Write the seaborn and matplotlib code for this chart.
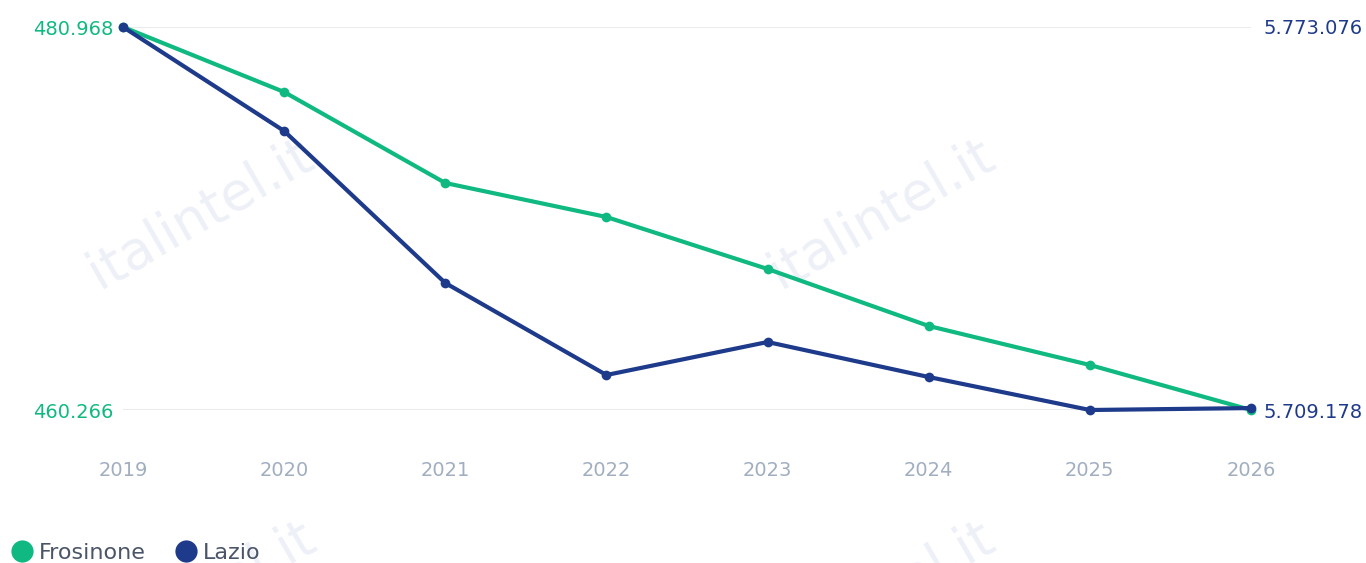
import matplotlib

matplotlib.use("Agg")
import matplotlib.pyplot as plt
import pandas as pd
import seaborn as sns
from matplotlib.lines import Line2D

sns.set_theme(style="white")
plt.rcParams["font.family"] = ["DejaVu Sans"]

# Data
years = [2019, 2020, 2021, 2022, 2023, 2024, 2025, 2026]
frosinone = [480968, 477455, 472536, 470698, 467888, 464807, 462699, 460266]
lazio = [5773076, 5755725, 5730365, 5715016, 5720521, 5714682, 5709178, 5709500]

GREEN = "#10b981"
NAVY = "#1e3a8a"
TICK_GRAY = "#a0aec0"
GRID = "#e9ebef"
WATERMARK = "#eef0f8"


def fmt(v):
    return f"{v:,}".replace(",", ".")


df = pd.DataFrame({"year": years, "Frosinone": frosinone, "Lazio": lazio})

fig = plt.figure(figsize=(13.66, 5.63), dpi=100)
ax = fig.add_axes([123 / 1366, 1 - 410 / 563, (1251 - 123) / 1366, (410 - 27) / 563])
ax2 = ax.twinx()

# watermarks, behind everything
for x, y in [(0.147, 0.62), (0.645, 0.62), (0.148, -0.058), (0.645, -0.058)]:
    fig.text(x, y, "italintel.it", fontsize=38, color=WATERMARK, rotation=30,
             ha="center", va="center", zorder=-5)

# grid lines at min / max only
for v in (min(frosinone), max(frosinone)):
    ax.axhline(v, color=GRID, lw=1.5, zorder=0)

sns.lineplot(data=df, x="year", y="Frosinone", ax=ax, color=GREEN, lw=3,
             marker="o", markersize=7, markeredgewidth=0, clip_on=False)
sns.lineplot(data=df, x="year", y="Lazio", ax=ax2, color=NAVY, lw=3,
             marker="o", markersize=7, markeredgewidth=0, clip_on=False)

ax.set_xlim(years[0], years[-1])
ax.set_ylim(min(frosinone), max(frosinone))
ax2.set_ylim(min(lazio), max(lazio))

ax.set_xticks(years)
ax.set_xticklabels([str(y) for y in years], color=TICK_GRAY, fontsize=14)
ax.set_yticks([min(frosinone), max(frosinone)])
ax.set_yticklabels([fmt(min(frosinone)), fmt(max(frosinone))], color=GREEN, fontsize=14)
ax2.set_yticks([min(lazio), max(lazio)])
ax2.set_yticklabels([fmt(min(lazio)), fmt(max(lazio))], color=NAVY, fontsize=14)

ax.tick_params(axis="x", length=0, pad=37)
ax.tick_params(axis="y", length=0, pad=7)
ax2.tick_params(axis="y", length=0, pad=9)
ax.set_xlabel("")
ax.set_ylabel("")
ax2.set_ylabel("")
for a in (ax, ax2):
    for s in a.spines.values():
        s.set_visible(False)
    a.patch.set_visible(False)

handles = [
    Line2D([], [], marker="o", color="none", markerfacecolor=GREEN, markeredgewidth=0,
           markersize=16, label="Frosinone"),
    Line2D([], [], marker="o", color="none", markerfacecolor=NAVY, markeredgewidth=0,
           markersize=16, label="Lazio"),
]
leg = fig.legend(handles=handles, loc="center left", bbox_to_anchor=(0.0, 1 - 553 / 563),
                 ncol=2, frameon=False, fontsize=16, handletextpad=0.15,
                 columnspacing=1.2, handlelength=1.2, borderaxespad=0)
for t in leg.get_texts():
    t.set_color("#4a5568")

fig.savefig("out.png", dpi=100)
